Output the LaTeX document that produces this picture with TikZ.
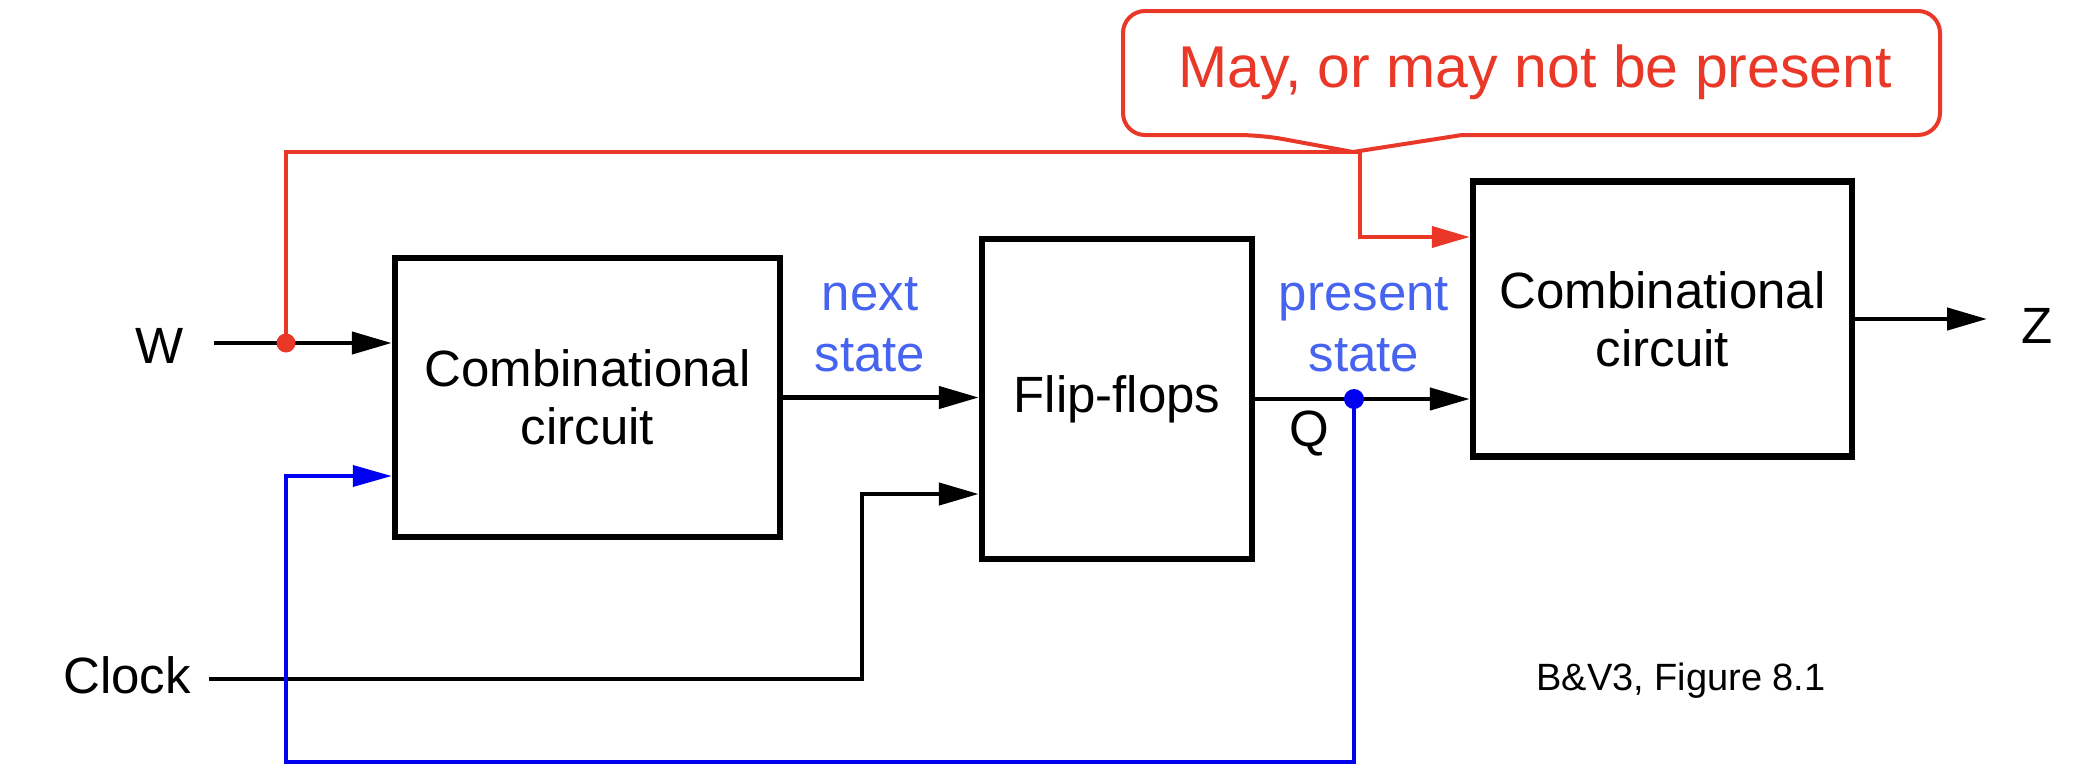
\documentclass[tikz,border=0pt]{standalone}
\usepackage{fontspec}
\setmainfont{Liberation Sans}
\usetikzlibrary{arrows.meta,calc}
\definecolor{callred}{RGB}{233,55,40}
\definecolor{labblue}{RGB}{70,100,240}
\definecolor{wireblue}{RGB}{0,0,240}
\newcommand{\bigtxt}{\fontsize{51}{58}\selectfont}
\newcommand{\labtxt}{\fontsize{51}{61}\selectfont}
\newcommand{\calltxt}{\fontsize{59}{70}\selectfont}
\newcommand{\captxt}{\fontsize{38}{45}\selectfont}
\tikzset{
  blk/.style={draw, line width=6.5pt, align=center, font=\bigtxt, inner sep=0pt},
  wire/.style={line width=4.5pt, -{Triangle[length=40pt,width=22pt]}},
  redwire/.style={draw=callred, line width=4pt, -{Triangle[length=38pt,width=21pt]}},
  bluewire/.style={draw=wireblue, line width=3.8pt, -{Triangle[length=39pt,width=21pt]}},
  joint/.style={circle, inner sep=0pt, minimum size=19pt},
  sig/.style={font=\bigtxt, inner sep=0pt, anchor=base},
  lab/.style={font=\labtxt, text=labblue, align=center, inner sep=0pt},
}
\begin{document}
\begin{tikzpicture}[x=1pt,y=-1pt]
\useasboundingbox (0,0) rectangle (2096,774);
% blocks
\node[blk, minimum width=385pt, minimum height=279pt] (box1) at (587.5,397.5) {Combinational\\circuit};
\node[blk, minimum width=270pt, minimum height=320pt] (ff) at (1117,399) {Flip-flops};
\node[blk, minimum width=379pt, minimum height=275pt] (box2) at (1662.5,319) {Combinational\\circuit};
% signal labels
\node[sig] (wlab) at (160,363) {W};
\node[sig] (clklab) at (127,693) {Clock};
\node[sig] (zlab) at (2037,343) {Z};
\node[sig] (qlab) at (1309,446) {Q};
\node[lab] (nslab) at (870,325) {next\\state};
\node[lab] (pslab) at (1364,325) {present\\state};
\node[font=\captxt, inner sep=0pt, anchor=base] (cap) at (1681,690) {B\&V3, Figure 8.1};
% callout
\node[font=\calltxt, text=callred, inner sep=0pt, anchor=base] (callout) at (1535,87) {May, or may not be present};
\draw[draw=callred, line width=4pt, line join=round]
  (1462,135) [rounded corners=22pt] -- (1940,135) -- (1940,11) -- (1123,11) -- (1123,135) -- (1261,135)
  [sharp corners] -- (1353,152) -- cycle;
% coordinates
\coordinate (wst) at (214,343);
\coordinate (rcorner) at (1360,152);
\coordinate (rin) at (1360,237);
\coordinate (clk) at (209,679);
\coordinate (clkin) at (862,494);
\coordinate (bl) at (286,762);
\coordinate (bin) at (286,476);
\coordinate (zend) at (1987,319);
\node[joint] (wdot) at (286,343) {};
\node[joint] (qdot) at (1354,399) {};
% wires
\draw[wire] (wst) -- (wst -| box1.west);
\draw[redwire] (wdot.center) |- (rcorner) -- (rin) -- (rin -| box2.west);
\draw[wire] (box1.east) -- (box1.east -| ff.west);
\draw[wire] (clk) -- (clkin |- clk) -- (clkin) -- (clkin -| ff.west);
\draw[wire] (ff.east) -- (ff.east -| box2.west);
\draw[bluewire] (qdot.center) |- (bl) -- (bin) -- (bin -| box1.west);
\draw[wire] (box2.east) -- (zend);
\fill[callred] (wdot) circle[radius=9.5pt];
\fill[wireblue] (qdot) circle[radius=10pt];
\end{tikzpicture}
\end{document}
